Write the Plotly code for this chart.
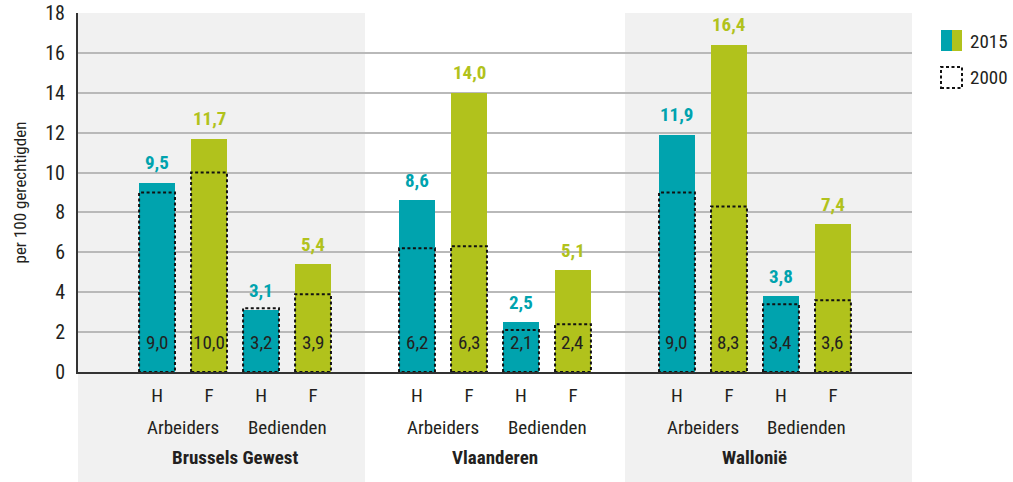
import plotly.graph_objects as go

# ---------------- data ----------------
regions = ["Brussels Gewest", "Vlaanderen", "Wallonië"]
groups = ["Arbeiders", "Bedienden"]
sexes = ["H", "F", "H", "F"]
val_2015 = {
    "Brussels Gewest": [9.5, 11.7, 3.1, 5.4],
    "Vlaanderen": [8.6, 14.0, 2.5, 5.1],
    "Wallonië": [11.9, 16.4, 3.8, 7.4],
}
val_2000 = {
    "Brussels Gewest": [9.0, 10.0, 3.2, 3.9],
    "Vlaanderen": [6.2, 6.3, 2.1, 2.4],
    "Wallonië": [9.0, 8.3, 3.4, 3.6],
}
y_ticks = [0, 2, 4, 6, 8, 10, 12, 14, 16, 18]
y_title = "per 100 gerechtigden"
legend_labels = ["2015", "2000"]

# ---------------- style ----------------
TEAL = "#00a3ae"
GREEN = "#b1c21c"
DARK = "#231f20"
BAND = "#f1f1f1"
GRID = "#b9b9b9"
FONT = "Roboto Condensed, Roboto, sans-serif"
W, H = 1013, 482
L, R, T, B = 78, 101, 13, 110
BW = 0.69

fig = go.Figure()

xs, ys, cols, old, ticktext = [], [], [], [], []
for gi, reg in enumerate(regions):
    for k in range(4):
        x = gi * 5 + 1 + k
        xs.append(x)
        ys.append(val_2015[reg][k])
        old.append(val_2000[reg][k])
        cols.append(TEAL if sexes[k] == "H" else GREEN)
        ticktext.append(sexes[k])

fig.add_trace(go.Bar(x=xs, y=ys, width=BW, marker=dict(color=cols, line=dict(width=0)),
                     showlegend=False, hoverinfo="skip"))

# 2000 dotted outlines
for x, v in zip(xs, old):
    fig.add_trace(go.Scatter(
        x=[x - BW / 2, x - BW / 2, x + BW / 2, x + BW / 2, x - BW / 2],
        y=[0, v, v, 0, 0], mode="lines",
        line=dict(color="#111111", width=2, dash="3px,2.5px"),
        showlegend=False, hoverinfo="skip"))

annotations = []
for x, v, v0, c in zip(xs, ys, old, cols):
    annotations.append(dict(x=x, y=v, xref="x", yref="y", text=f"<b>{v:.1f}</b>".replace(".", ","),
                            showarrow=False, yanchor="middle", yshift=20,
                            font=dict(family=FONT, size=19, color=c)))
    annotations.append(dict(x=x, y=0, xref="x", yref="y", text=f"{v0:.1f}".replace(".", ","),
                            showarrow=False, yanchor="middle", yshift=30,
                            font=dict(family=FONT, size=19, color=DARK)))

for gi, reg in enumerate(regions):
    for j, grp in enumerate(groups):
        annotations.append(dict(x=gi * 5 + 1.5 + 2 * j, y=0, xref="x", yref="paper", text=grp,
                                showarrow=False, yanchor="middle", yshift=-55,
                                font=dict(family=FONT, size=19, color=DARK)))
    annotations.append(dict(x=gi * 5 + 2.5, y=0, xref="x", yref="paper", text=f"<b>{reg}</b>",
                            showarrow=False, yanchor="middle", yshift=-85,
                            font=dict(family=FONT, size=19, color=DARK)))

pw = W - L - R
ph = H - T - B


def px(xp):  # page pixel -> paper
    return (xp - L) / pw


def py(yp):
    return (H - B - yp) / ph


# y title
annotations.append(dict(x=px(19), y=0.5, xref="paper", yref="paper", text=y_title, textangle=-90,
                        showarrow=False, xanchor="center", yanchor="middle",
                        font=dict(family=FONT, size=17, color=DARK)))

# bands
shapes = []
bottom = -B / ph
band_edges = [(-0.52, 5, BAND), (10, 15.52, BAND)]
for x0, x1, c in band_edges:
    shapes.append(dict(type="rect", xref="x", yref="paper", x0=x0, x1=x1, y0=bottom, y1=1,
                       fillcolor=c, line=dict(width=0), layer="below"))

# legend
shapes.append(dict(type="rect", xref="paper", yref="paper", x0=px(941), x1=px(952), y0=py(51), y1=py(30),
                   fillcolor=TEAL, line=dict(width=0)))
shapes.append(dict(type="rect", xref="paper", yref="paper", x0=px(952), x1=px(962), y0=py(51), y1=py(30),
                   fillcolor=GREEN, line=dict(width=0)))
shapes.append(dict(type="rect", xref="paper", yref="paper", x0=px(941), x1=px(962), y0=py(88), y1=py(67),
                   fillcolor="rgba(0,0,0,0)", line=dict(width=2, color="#111111", dash="3px,2.5px")))
annotations.append(dict(x=px(968), y=py(41), xref="paper", yref="paper", text=legend_labels[0],
                        showarrow=False, xanchor="left", yanchor="middle",
                        font=dict(family=FONT, size=19, color=DARK)))
annotations.append(dict(x=px(968), y=py(77), xref="paper", yref="paper", text=legend_labels[1],
                        showarrow=False, xanchor="left", yanchor="middle",
                        font=dict(family=FONT, size=19, color=DARK)))

fig.update_layout(
    width=W, height=H,
    margin=dict(l=L, r=R, t=T, b=B),
    paper_bgcolor="white", plot_bgcolor="rgba(0,0,0,0)",
    shapes=shapes, annotations=annotations,
    font=dict(family=FONT, color=DARK),
    bargap=0,
)
fig.update_xaxes(range=[-0.52, 15.52], tickvals=xs, ticktext=ticktext, showgrid=False,
                 showline=True, linecolor="#333333", linewidth=2, ticks="", zeroline=False,
                 automargin=False,
                 tickfont=dict(family=FONT, size=19, color=DARK), ticklabelstandoff=5)
fig.update_yaxes(range=[0, 18], tickvals=y_ticks, showgrid=True, gridcolor=GRID, gridwidth=1.5,
                 showline=True, linecolor="#333333", linewidth=2, ticks="", zeroline=False,
                 automargin=False, ticklabeloverflow="allow",
                 tickfont=dict(family=FONT, size=20, color=DARK), ticklabelstandoff=7)

fig.write_html("out.html", config={"displayModeBar": False},
               post_script="document.body.style.margin='0px';document.body.style.overflow='hidden';")
